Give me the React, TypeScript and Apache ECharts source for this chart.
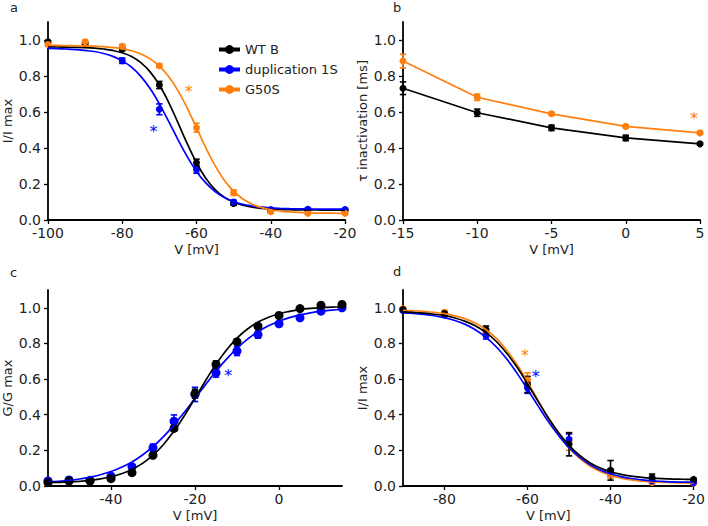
import React, { useEffect, useRef } from "react";
import * as echarts from "echarts";

const BLACK = "#000000";
const BLUE = "#0000ff";
const ORANGE = "#ff7f0e";
const FONT = "DejaVu Sans";

// ---------- Panel a: steady-state inactivation ----------
const aV = [-100, -90, -80, -70, -60, -50, -40, -30, -20];
const aWT = [0.99, 0.98, 0.95, 0.75, 0.318, 0.092, 0.053, 0.057, 0.054];
const aWTErr = [0.005, 0.008, 0.01, 0.02, 0.02, 0.01, 0.008, 0.006, 0.006];
const aDupV = [-80, -70, -60, -50, -40, -30, -20];
const aDup = [0.885, 0.615, 0.28, 0.1, 0.058, 0.06, 0.058];
const aDupErr = [0.015, 0.03, 0.02, 0.01, 0.008, 0.006, 0.006];
const aG50 = [0.975, 0.99, 0.965, 0.857, 0.513, 0.152, 0.046, 0.037, 0.037];
const aG50Err = [0.008, 0.01, 0.01, 0.01, 0.025, 0.015, 0.006, 0.005, 0.005];
const aFitV = [-100, -97.5, -95, -92.5, -90, -87.5, -85, -82.5, -80, -77.5, -75, -72.5, -70, -67.5, -65, -62.5, -60, -57.5, -55, -52.5, -50, -47.5, -45, -42.5, -40, -37.5, -35, -32.5, -30, -27.5, -25, -22.5, -20];
const aFitWT = [0.962, 0.961, 0.96, 0.9595, 0.958, 0.955, 0.95, 0.942, 0.929, 0.908, 0.874, 0.823, 0.75, 0.654, 0.541, 0.424, 0.318, 0.232, 0.169, 0.126, 0.099, 0.082, 0.071, 0.0646, 0.061, 0.0584, 0.057, 0.0565, 0.056, 0.0555, 0.055, 0.055, 0.055];
const aFitDup = [0.953, 0.952, 0.95, 0.947, 0.942, 0.936, 0.925, 0.909, 0.884, 0.849, 0.798, 0.73, 0.645, 0.548, 0.447, 0.352, 0.27, 0.206, 0.158, 0.125, 0.102, 0.087, 0.078, 0.071, 0.067, 0.0646, 0.063, 0.062, 0.061, 0.0607, 0.0605, 0.0602, 0.06];
const aFitG50 = [0.97, 0.97, 0.969, 0.968, 0.967, 0.9655, 0.963, 0.958, 0.951, 0.94, 0.922, 0.895, 0.855, 0.797, 0.719, 0.622, 0.513, 0.402, 0.302, 0.221, 0.16, 0.117, 0.088, 0.069, 0.057, 0.0496, 0.045, 0.0419, 0.04, 0.0385, 0.038, 0.0375, 0.037];
const aStarDup = [-71.6, 0.51];
const aStarG50 = [-62.1, 0.73];

// ---------- Panel b: tau inactivation ----------
const bV = [-15, -10, -5, 0, 5];
const bWT = [0.732, 0.596, 0.512, 0.456, 0.423];
const bWTErr = [0.035, 0.02, 0.015, 0.015, 0.006];
const bG50 = [0.883, 0.682, 0.59, 0.52, 0.484];
const bG50Err = [0.038, 0.018, 0.008, 0.008, 0.008];
const bStarG50 = [4.6, 0.58];

// ---------- Panel c: activation ----------
const cV = [-55, -50, -45, -40, -35, -30, -25, -20, -15, -10, -5, 0, 5, 10, 15];
const cWT = [0.019, 0.028, 0.028, 0.041, 0.075, 0.172, 0.323, 0.518, 0.682, 0.809, 0.897, 0.957, 0.996, 1.015, 1.019];
const cWTErr = [0.005, 0.005, 0.005, 0.01, 0.008, 0.01, 0.015, 0.025, 0.02, 0.015, 0.01, 0.008, 0.006, 0.008, 0.008];
const cDup = [0.028, 0.034, 0.032, 0.055, 0.108, 0.215, 0.364, 0.514, 0.636, 0.757, 0.85, 0.91, 0.944, 0.981, 1.0];
const cDupErr = [0.005, 0.005, 0.005, 0.01, 0.01, 0.02, 0.035, 0.04, 0.025, 0.025, 0.02, 0.01, 0.008, 0.008, 0.005];
const cFitV = [-55, -52.5, -50, -47.5, -45, -42.5, -40, -37.5, -35, -32.5, -30, -27.5, -25, -22.5, -20, -17.5, -15, -12.5, -10, -7.5, -5, -2.5, 0, 2.5, 5, 7.5, 10, 12.5, 15];
const cFitWT = [0.0185, 0.0203, 0.0228, 0.0265, 0.032, 0.0402, 0.052, 0.069, 0.093, 0.127, 0.173, 0.233, 0.308, 0.396, 0.493, 0.591, 0.683, 0.763, 0.83, 0.881, 0.92, 0.947, 0.967, 0.98, 0.99, 0.9966, 1.001, 1.004, 1.006];
const cFitDup = [0.0216, 0.0258, 0.0315, 0.0392, 0.0495, 0.063, 0.081, 0.105, 0.135, 0.174, 0.221, 0.277, 0.343, 0.415, 0.492, 0.569, 0.644, 0.712, 0.772, 0.824, 0.866, 0.899, 0.925, 0.945, 0.96, 0.972, 0.981, 0.987, 0.992];
const cStarDup = [-12.1, 0.635];

// ---------- Panel d: inactivation ----------
const dV = [-90, -80, -70, -60, -50, -40, -30, -20];
const dWT = [0.99, 0.968, 0.878, 0.57, 0.234, 0.088, 0.047, 0.037];
const dWTErr = [0.008, 0.01, 0.02, 0.045, 0.065, 0.055, 0.02, 0.006];
const dDup = [0.985, 0.96, 0.845, 0.55, 0.262, 0.075, 0.028, 0.019];
const dDupErr = [0.008, 0.01, 0.02, 0.03, 0.03, 0.02, 0.008, 0.005];
const dG50 = [0.995, 0.975, 0.86, 0.595, 0.25, 0.065, 0.02, 0.015];
const dG50Err = [0.008, 0.01, 0.02, 0.04, 0.05, 0.02, 0.008, 0.005];
const dFitV = [-90, -87.5, -85, -82.5, -80, -77.5, -75, -72.5, -70, -67.5, -65, -62.5, -60, -57.5, -55, -52.5, -50, -47.5, -45, -42.5, -40, -37.5, -35, -32.5, -30, -27.5, -25, -22.5, -20];
const dFitWT = [0.977, 0.974, 0.97, 0.964, 0.956, 0.943, 0.924, 0.898, 0.861, 0.811, 0.745, 0.666, 0.574, 0.477, 0.383, 0.299, 0.228, 0.173, 0.131, 0.101, 0.08, 0.0653, 0.055, 0.0486, 0.044, 0.041, 0.039, 0.0378, 0.037];
const dFitDup = [0.972, 0.9685, 0.963, 0.9556, 0.944, 0.9287, 0.907, 0.876, 0.834, 0.78, 0.713, 0.632, 0.543, 0.451, 0.362, 0.283, 0.215, 0.162, 0.121, 0.09, 0.069, 0.053, 0.042, 0.0345, 0.029, 0.0258, 0.023, 0.0217, 0.0205];
const dFitG50 = [0.986, 0.9835, 0.98, 0.975, 0.967, 0.955, 0.938, 0.913, 0.877, 0.828, 0.762, 0.68, 0.584, 0.482, 0.381, 0.29, 0.215, 0.156, 0.112, 0.081, 0.059, 0.0443, 0.034, 0.0278, 0.023, 0.0205, 0.0187, 0.0175, 0.0165];
const dStarG50 = [-60.6, 0.747];
const dStarDup = [-58, 0.634];

// ---------- tick labels ----------
const yTicks = [0, 0.2, 0.4, 0.6, 0.8, 1.0];
const aXTicks = [-100, -80, -60, -40, -20];
const bXTicks = [-15, -10, -5, 0, 5];
const cXTicks = [-40, -20, 0];
const dXTicks = [-80, -60, -40, -20];

const legendNames = ["WT B", "duplication 1S", "G50S"];

const pairs = (xs: number[], ys: number[]) => xs.map((x, i) => [x, ys[i]]);
const triples = (xs: number[], ys: number[], es: number[]) => xs.map((x, i) => [x, ys[i], es[i]]);

const AXIS_W = 1.8;

function xAxis(gridIndex: number, min: number, max: number, ticks: number[]) {
  return {
    type: "value",
    gridIndex,
    min,
    max,
    name: "V [mV]",
    nameLocation: "middle",
    nameGap: 23,
    nameTextStyle: { fontSize: 13, color: "#222", fontFamily: FONT },
    axisLine: { show: true, onZero: false, lineStyle: { color: "#000", width: AXIS_W } },
    axisTick: { show: true, length: 4, customValues: ticks, lineStyle: { color: "#000", width: 1.3 } },
    axisLabel: { customValues: ticks, fontSize: 14, color: "#222", fontFamily: FONT, margin: 6 },
    splitLine: { show: false },
  };
}

function yAxis(gridIndex: number, name: string) {
  return {
    type: "value",
    gridIndex,
    min: 0,
    max: 1.1,
    name,
    nameLocation: "middle",
    nameGap: 34,
    nameTextStyle: { fontSize: 13, color: "#222", fontFamily: FONT },
    axisLine: { show: true, onZero: false, lineStyle: { color: "#000", width: AXIS_W } },
    axisTick: { show: true, length: 4, customValues: yTicks, lineStyle: { color: "#000", width: 1.3 } },
    axisLabel: {
      customValues: yTicks,
      fontSize: 14,
      color: "#222",
      fontFamily: FONT,
      margin: 7,
      formatter: (v: number) => v.toFixed(1),
    },
    splitLine: { show: false },
  };
}

function curve(name: string, idx: number, xs: number[], ys: number[], color: string, smooth = true, symbolSize = 0) {
  return {
    name,
    type: "line",
    xAxisIndex: idx,
    yAxisIndex: idx,
    data: pairs(xs, ys),
    smooth: smooth ? 0.4 : false,
    symbol: "circle",
    showSymbol: symbolSize > 0,
    symbolSize,
    itemStyle: { color },
    lineStyle: { color, width: 1.7 },
    silent: true,
  };
}

function points(idx: number, xs: number[], ys: number[], color: string, size = 7) {
  return {
    type: "scatter",
    xAxisIndex: idx,
    yAxisIndex: idx,
    data: pairs(xs, ys),
    symbol: "circle",
    symbolSize: size,
    itemStyle: { color, opacity: 1 },
    silent: true,
  };
}

function errors(idx: number, xs: number[], ys: number[], es: number[], color: string) {
  return {
    type: "custom",
    xAxisIndex: idx,
    yAxisIndex: idx,
    data: triples(xs, ys, es),
    silent: true,
    renderItem: (_p: any, api: any) => {
      const x = api.value(0);
      const y = api.value(1);
      const e = api.value(2);
      const t = api.coord([x, y + e]);
      const b = api.coord([x, y - e]);
      const w = 3.2;
      const st = { stroke: color, lineWidth: 1.6 };
      return {
        type: "group",
        children: [
          { type: "line", shape: { x1: t[0], y1: t[1], x2: b[0], y2: b[1] }, style: st },
          { type: "line", shape: { x1: t[0] - w, y1: t[1], x2: t[0] + w, y2: t[1] }, style: st },
          { type: "line", shape: { x1: b[0] - w, y1: b[1], x2: b[0] + w, y2: b[1] }, style: st },
        ],
      };
    },
  };
}

function star(idx: number, pos: number[], color: string) {
  return {
    type: "custom",
    xAxisIndex: idx,
    yAxisIndex: idx,
    data: [pos],
    silent: true,
    renderItem: (_p: any, api: any) => {
      const c = api.coord([api.value(0), api.value(1)]);
      return {
        type: "text",
        x: c[0],
        y: c[1] + 3,
        style: {
          text: "*",
          fill: color,
          fontSize: 16,
          fontFamily: FONT,
          align: "center",
          verticalAlign: "middle",
        },
      };
    },
  };
}

function panelLabel(text: string, left: number, top: number) {
  return {
    type: "text",
    left,
    top,
    style: { text, fontSize: 13, fontFamily: FONT, fill: "#222" },
  };
}

export default function App() {
  const ref = useRef<HTMLDivElement>(null);
  useEffect(() => {
    if (!ref.current) return;
    const chart = echarts.init(ref.current, null, { renderer: "svg" });
    const option: any = {
      animation: false,
      backgroundColor: "#ffffff",
      textStyle: { fontFamily: FONT },
      grid: [
        { left: 47, top: 22, width: 298, height: 198 },
        { left: 403, top: 22, width: 297, height: 198 },
        { left: 47, top: 290, width: 295, height: 196 },
        { left: 403, top: 290, width: 297, height: 196 },
      ],
      xAxis: [
        xAxis(0, -100, -20, aXTicks),
        xAxis(1, -15, 5, bXTicks),
        xAxis(2, -55, 15, cXTicks),
        xAxis(3, -90, -20, dXTicks),
      ],
      yAxis: [
        yAxis(0, "I/I max"),
        yAxis(1, "τ inactivation [ms]"),
        yAxis(2, "G/G max"),
        yAxis(3, "I/I max"),
      ],
      legend: {
        data: legendNames,
        orient: "vertical",
        left: 212,
        top: 38,
        itemWidth: 21,
        itemHeight: 11,
        itemGap: 7,
        selectedMode: false,
        lineStyle: { width: 4 },
        textStyle: { fontSize: 13, color: "#222", fontFamily: FONT },
      },
      graphic: [
        panelLabel("a", 10, 1),
        panelLabel("b", 393, 1),
        panelLabel("c", 10, 266),
        panelLabel("d", 393, 265),
      ],
      series: [
        // panel a
        curve("WT B", 0, aFitV, aFitWT, BLACK),
        curve("duplication 1S", 0, aFitV, aFitDup, BLUE),
        curve("G50S", 0, aFitV, aFitG50, ORANGE),
        errors(0, aV, aWT, aWTErr, BLACK),
        points(0, aV, aWT, BLACK, 7),
        errors(0, aDupV, aDup, aDupErr, BLUE),
        points(0, aDupV, aDup, BLUE, 7),
        errors(0, aV, aG50, aG50Err, ORANGE),
        points(0, aV, aG50, ORANGE, 7),
        star(0, aStarDup, BLUE),
        star(0, aStarG50, ORANGE),
        // panel b
        errors(1, bV, bWT, bWTErr, BLACK),
        curve("b WT", 1, bV, bWT, BLACK, false, 7),
        errors(1, bV, bG50, bG50Err, ORANGE),
        curve("b G50S", 1, bV, bG50, ORANGE, false, 7),
        star(1, bStarG50, ORANGE),
        // panel c
        curve("c Dup fit", 2, cFitV, cFitDup, BLUE),
        curve("c WT fit", 2, cFitV, cFitWT, BLACK),
        errors(2, cV, cDup, cDupErr, BLUE),
        points(2, cV, cDup, BLUE, 9),
        errors(2, cV, cWT, cWTErr, BLACK),
        points(2, cV, cWT, BLACK, 9),
        star(2, cStarDup, BLUE),
        // panel d
        errors(3, dV, dG50, dG50Err, ORANGE),
        points(3, dV, dG50, ORANGE, 7),
        curve("d G50S fit", 3, dFitV, dFitG50, ORANGE),
        errors(3, dV, dDup, dDupErr, BLUE),
        points(3, dV, dDup, BLUE, 7),
        curve("d Dup fit", 3, dFitV, dFitDup, BLUE),
        errors(3, dV, dWT, dWTErr, BLACK),
        points(3, dV, dWT, BLACK, 7),
        curve("d WT fit", 3, dFitV, dFitWT, BLACK),
        star(3, dStarG50, ORANGE),
        star(3, dStarDup, BLUE),
      ],
    };
    chart.setOption(option);
    return () => chart.dispose();
  }, []);
  return (
    <div
      ref={ref}
      style={{ position: "fixed", left: 0, top: 0, width: 708, height: 526, background: "#fff" }}
    />
  );
}
